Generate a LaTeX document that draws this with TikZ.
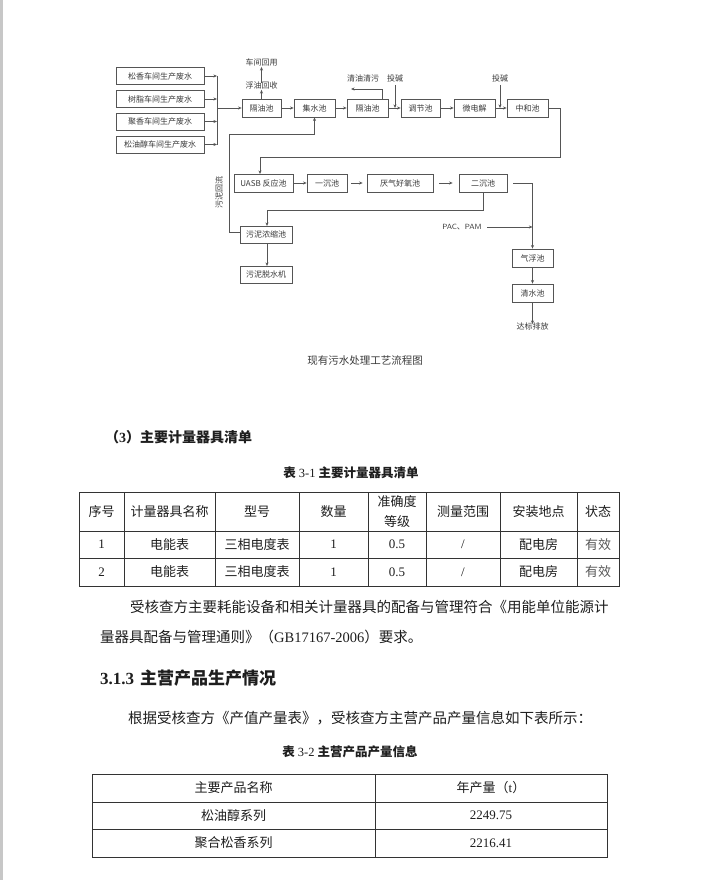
\documentclass[tikz,border=0pt]{standalone}
\usepackage{fontspec}
\setmainfont{Liberation Serif}
\newfontfamily\cjk{Noto Sans CJK SC}
\usetikzlibrary{arrows.meta}
\definecolor{lc}{HTML}{555555}
\definecolor{ftc}{HTML}{3A3A3A}
\definecolor{tl}{HTML}{333333}
\definecolor{tt}{HTML}{1E1E1E}
\newcommand{\ff}{\cjk\fontsize{8}{9}\selectfont}
\newcommand{\tblf}{\fontsize{13}{15}\selectfont}
\newcommand{\bodyf}{\fontsize{14.5}{16}\selectfont}
\begin{document}
\begin{tikzpicture}[x=1pt,y=-1pt,
  fbox/.style={draw=lc, line width=0.7pt, inner sep=0pt, font=\ff, text=ftc, minimum height=18pt},
  ftxt/.style={inner sep=0pt, font=\ff, text=ftc},
  arr/.style={-{Stealth[length=3.6pt,width=3pt]}, draw=lc, line width=0.7pt},
  ln/.style={draw=lc, line width=0.7pt},
  tline/.style={draw=tl, line width=0.8pt},
  tcell/.style={inner sep=0pt, text=tt, font=\tblf},
  body/.style={inner sep=0pt, text=tt, font=\bodyf, anchor=west}]
\useasboundingbox (0,0) rectangle (715,880);
\fill[white] (0,0) rectangle (715,880);
\fill[black!22] (0,0) rectangle (3,880);
% ---------- flow chart ----------
\node[fbox, minimum width=88pt, minimum height=17pt] (s1) at (160,76) {松香车间生产废水};
\node[fbox, minimum width=88pt, minimum height=17pt] (s2) at (160,99) {树脂车间生产废水};
\node[fbox, minimum width=88pt, minimum height=17pt] (s3) at (160,121.5) {聚香车间生产废水};
\node[fbox, minimum width=88pt, minimum height=17pt] (s4) at (160,144.5) {松油醇车间生产废水};
\coordinate (b1) at (217,76);
\coordinate (b2) at (217,99);
\coordinate (b3) at (217,121.5);
\coordinate (b4) at (217,144.5);
\coordinate (bm) at (217,108);
\foreach \i in {1,2,3,4} \draw[arr] (s\i.east) -- (b\i);
\draw[ln] (b1) -- (b4);

\node[fbox, minimum width=39pt] (g1) at (261.5,108) {隔油池};
\node[fbox, minimum width=41pt] (j) at (314.5,108) {集水池};
\node[fbox, minimum width=41pt] (g2) at (367.5,108) {隔油池};
\node[fbox, minimum width=39pt] (t) at (420.5,108) {调节池};
\node[fbox, minimum width=41pt] (w) at (474.5,108) {微电解};
\node[fbox, minimum width=41pt] (z) at (527.5,108) {中和池};
\draw[arr] (bm) -- (g1.west);
\draw[arr] (g1) -- (j);
\draw[arr] (j) -- (g2);
\draw[arr] (g2) -- (t);
\draw[arr] (t) -- (w);
\draw[arr] (w) -- (z);

\node[ftxt] (f1) at (261.5,85) {浮油回收};
\node[ftxt] (f2) at (261.5,62) {车间回用};
\draw[arr] (g1.north) -- ([yshift=-1pt]f1.south);
\draw[arr] ([yshift=-2pt]f1.north) -- ([yshift=-1pt]f2.south);

\node[ftxt] (qy) at (363,78) {清油清污};
\coordinate (qye) at (351,89);
\coordinate (qys) at (382,99);
\draw[arr] (qys) |- (qye);

\node[ftxt] (tj1) at (395,78) {投碱};
\node[ftxt] (tj2) at (500,78) {投碱};
\draw[arr] ([yshift=-3pt]tj1.south) -- (tj1.south |- g2.east);
\draw[arr] ([yshift=-3pt]tj2.south) -- (tj2.south |- w.east);

\node[fbox, minimum width=59pt] (u) at (263.5,183) {UASB 反应池};
\node[fbox, minimum width=40pt] (y1) at (327,183) {一沉池};
\node[fbox, minimum width=66pt] (hy) at (400,183) {厌气好氧池};
\node[fbox, minimum width=48pt] (e) at (483,183) {二沉池};
\draw[arr] (z.east) -- (560,108) -- (560,157) -- (260,157) -- (260,174);
\draw[arr] (u) -- (y1);
\draw[arr, shorten <=4pt, shorten >=4pt] (y1) -- (hy);
\draw[arr, shorten <=6pt, shorten >=6pt] (hy) -- (e);

\node[fbox, minimum width=52pt, minimum height=17pt] (wn) at (266,234.5) {污泥浓缩池};
\node[fbox, minimum width=52pt, minimum height=17pt] (wt) at (266,274.5) {污泥脱水机};
\draw[arr] (e.south) -- (483,210) -- (267,210) -- (267,226);
\draw[arr] (267,243) -- (267,266);
\draw[arr] (240,232) -- (229,232) -- (229,134) -- (314.5,134) -- (j.south);
\node[ftxt, rotate=90] (hl) at (219,192) {污泥回流};

\node[fbox, minimum width=41pt] (qf) at (532.5,258) {气浮池};
\node[fbox, minimum width=41pt] (qs) at (532.5,293) {清水池};
\draw[arr] ([xshift=6pt]e.east) -- (532.5,183) -- (qf.north);
\node[ftxt, font=\fontsize{7.5}{8}\selectfont\sffamily] (pac) at (462,227) {PAC{\ff 、}PAM};
\draw[arr] (487,227) -- (532.5,227);
\draw[arr] (qf) -- (qs);
\node[ftxt] (db) at (532.5,326) {达标排放};
\draw[arr] (qs.south) -- ([yshift=-2pt]db.north);

\node[inner sep=0pt, text=ftc, font=\cjk\fontsize{10.5}{12}\selectfont] (cap) at (365,361) {现有污水处理工艺流程图};

% ---------- section (3) ----------
\node[inner sep=0pt, text=tt, anchor=west, font=\fontsize{14}{16}\selectfont] (h3) at (105,437) {{\cjk\bfseries （}\textbf{3}{\cjk\bfseries ）主要计量器具清单}};
\node[inner sep=0pt, text=tt, font=\fontsize{12.5}{14}\selectfont] (t31) at (351,473) {{\cjk\bfseries 表} 3-1 {\cjk\bfseries 主要计量器具清单}};

\draw[tline] (79,492) rectangle (619,586);
\draw[tline] (79,531) -- (619,531);
\draw[tline] (79,558) -- (619,558);
\foreach \x in {124,215,299,368,426,500,577} \draw[tline] (\x,492) -- (\x,586);

\node[tcell] (h1) at (101.5,511.5) {\cjk 序号};
\node[tcell] (h2) at (169.5,511.5) {\cjk 计量器具名称};
\node[tcell] (h3b) at (257,511.5) {\cjk 型号};
\node[tcell] (h4) at (333.5,511.5) {\cjk 数量};
\node[tcell, align=center, font=\cjk\fontsize{13}{20}\selectfont] (h5) at (397,511.5) {准确度\\等级};
\node[tcell] (h6) at (463,511.5) {\cjk 测量范围};
\node[tcell] (h7) at (538.5,511.5) {\cjk 安装地点};
\node[tcell] (h8) at (598,511.5) {\cjk 状态};

\node[tcell] (a1) at (101.5,544.5) {1};
\node[tcell] (a2) at (169.5,544.5) {\cjk 电能表};
\node[tcell] (a3) at (257,544.5) {\cjk 三相电度表};
\node[tcell] (a4) at (333.5,544.5) {1};
\node[tcell] (a5) at (397,544.5) {0.5};
\node[tcell] (a6) at (463,544.5) {/};
\node[tcell] (a7) at (538.5,544.5) {\cjk 配电房};
\node[tcell, text=black!65] (a8) at (598,544.5) {\cjk 有效};

\node[tcell] (c1) at (101.5,572) {2};
\node[tcell] (c2) at (169.5,572) {\cjk 电能表};
\node[tcell] (c3) at (257,572) {\cjk 三相电度表};
\node[tcell] (c4) at (333.5,572) {1};
\node[tcell] (c5) at (397,572) {0.5};
\node[tcell] (c6) at (463,572) {/};
\node[tcell] (c7) at (538.5,572) {\cjk 配电房};
\node[tcell, text=black!65] (c8) at (598,572) {\cjk 有效};

% ---------- body ----------
\node[body] (p1) at (130,607) {\cjk 受核查方主要耗能设备和相关计量器具的配备与管理符合《用能单位能源计};
\node[body] (p2) at (100,637) {{\cjk 量器具配备与管理通则》（}GB17167-2006{\cjk ）要求。}};
\node[inner sep=0pt, text=tt, anchor=west, font=\fontsize{17}{19}\selectfont] (s313) at (100,678) {\textbf{3.1.3}\hspace{6pt}{\cjk\bfseries 主营产品生产情况}};
\node[body] (p3) at (128,718) {\cjk 根据受核查方《产值产量表》，受核查方主营产品产量信息如下表所示：};
\node[inner sep=0pt, text=tt, font=\fontsize{12.5}{14}\selectfont] (t32) at (350,752) {{\cjk\bfseries 表} 3-2 {\cjk\bfseries 主营产品产量信息}};

\draw[tline] (92,774) rectangle (607,857);
\draw[tline] (92,802) -- (607,802);
\draw[tline] (92,829) -- (607,829);
\draw[tline] (375,774) -- (375,857);
\node[tcell] (k1) at (233.5,788) {\cjk 主要产品名称};
\node[tcell] (k2) at (491,788) {{\cjk 年产量（}t{\cjk ）}};
\node[tcell] (k3) at (233.5,815.5) {\cjk 松油醇系列};
\node[tcell] (k4) at (491,815.5) {2249.75};
\node[tcell] (k5) at (233.5,843) {\cjk 聚合松香系列};
\node[tcell] (k6) at (491,843) {2216.41};
\end{tikzpicture}
\end{document}
